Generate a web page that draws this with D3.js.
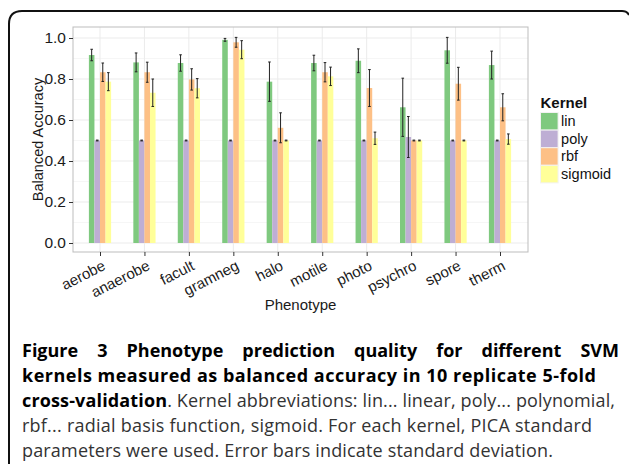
<!DOCTYPE html>
<html>
<head>
<meta charset="utf-8">
<script src="https://cdn.jsdelivr.net/npm/d3@7"></script>
<style>
  body { margin: 0; background: #fff; }
  svg { display: block; }
</style>
</head>
<body>
<svg id="chart"></svg>
<script>
const phenotypes = ['aerobe', 'anaerobe', 'facult', 'gramneg', 'halo', 'motile', 'photo', 'psychro', 'spore', 'therm'];
const kernels = ['lin', 'poly', 'rbf', 'sigmoid'];
const kernelColors = ['#7fc97f', '#beaed4', '#fdc086', '#ffff99'];

const linMean = [0.917, 0.881, 0.878, 0.991, 0.787, 0.878, 0.889, 0.662, 0.940, 0.868];
const linSd = [0.028, 0.046, 0.040, 0.007, 0.096, 0.038, 0.058, 0.142, 0.063, 0.068];
const polyMean = [0.5, 0.5, 0.5, 0.5, 0.5, 0.5, 0.5, 0.517, 0.5, 0.5];
const polySd = [0.002, 0.002, 0.002, 0.002, 0.002, 0.002, 0.002, 0.100, 0.002, 0.002];
const rbfMean = [0.833, 0.833, 0.798, 0.979, 0.562, 0.833, 0.756, 0.5, 0.777, 0.662];
const rbfSd = [0.045, 0.049, 0.052, 0.024, 0.073, 0.047, 0.090, 0.002, 0.080, 0.066];
const sigmoidMean = [0.787, 0.733, 0.755, 0.943, 0.5, 0.813, 0.511, 0.5, 0.5, 0.507];
const sigmoidSd = [0.044, 0.067, 0.047, 0.044, 0.002, 0.045, 0.030, 0.002, 0.002, 0.025];

const yTicks = [0, 0.2, 0.4, 0.6, 0.8, 1.0];
const yMinorTicks = [0.1, 0.3, 0.5, 0.7, 0.9];

const captionLines = [
  [{ t: 'Figure 3 Phenotype prediction quality for different SVM', b: true }],
  [{ t: 'kernels measured as balanced accuracy in 10 replicate 5-fold', b: true }],
  [{ t: 'cross-validation', b: true }, { t: '. Kernel abbreviations: lin... linear, poly... polynomial,', b: false }],
  [{ t: 'rbf... radial basis function, sigmoid. For each kernel, PICA standard', b: false }],
  [{ t: 'parameters were used. Error bars indicate standard deviation.', b: false }]
];
// widths the caption lines run to in the figure
const captionWidths = [597, 574, 593, 570, 531];

const means = [linMean, polyMean, rbfMean, sigmoidMean];
const sds = [linSd, polySd, rbfSd, sigmoidSd];
const rows = [];
kernels.forEach((k, ki) => {
  phenotypes.forEach((p, pi) => {
    rows.push({ kernel: k, phenotype: p, mean: means[ki][pi], sd: sds[ki][pi] });
  });
});

const W = 629, H = 464;
const panel = { left: 73, top: 27, right: 528, bottom: 252 };

const svg = d3.select('#chart').attr('width', W).attr('height', H);

// frame (top + left edge, rounded corner)
svg.append('path')
   .attr('d', 'M9,466 L9,24 Q9,11 22,11 L622,11 Q627,11 629,15')
   .attr('fill', 'none')
   .attr('stroke', '#111')
   .attr('stroke-width', 2);

const x = d3.scalePoint()
            .domain(phenotypes)
            .range([100, 500]);
const step = x.step();

const xk = d3.scaleBand()
             .domain(kernels)
             .range([-step * 0.25, step * 0.25]);

const y = d3.scaleLinear()
            .domain([0, 1])
            .range([243, 38]);

const color = d3.scaleOrdinal().domain(kernels).range(kernelColors);

// grid
const grid = svg.append('g');
grid.selectAll('.minor')
    .data(yMinorTicks)
    .enter().append('line')
    .attr('x1', panel.left).attr('x2', panel.right)
    .attr('y1', d => y(d)).attr('y2', d => y(d))
    .attr('stroke', '#f6f6f6').attr('stroke-width', 1);
grid.selectAll('.major')
    .data(yTicks)
    .enter().append('line')
    .attr('x1', panel.left).attr('x2', panel.right)
    .attr('y1', d => y(d)).attr('y2', d => y(d))
    .attr('stroke', '#ebebeb').attr('stroke-width', 1);
grid.selectAll('.vmajor')
    .data(phenotypes)
    .enter().append('line')
    .attr('x1', d => x(d)).attr('x2', d => x(d))
    .attr('y1', panel.top).attr('y2', panel.bottom)
    .attr('stroke', '#ebebeb').attr('stroke-width', 1);

// bars
svg.append('g')
   .selectAll('rect')
   .data(rows)
   .enter().append('rect')
   .attr('x', d => x(d.phenotype) + xk(d.kernel))
   .attr('width', xk.bandwidth())
   .attr('y', d => y(d.mean))
   .attr('height', d => y(0) - y(d.mean))
   .attr('fill', d => color(d.kernel));

// error bars
const eb = svg.append('g').attr('stroke', '#222').attr('stroke-width', 1);
rows.forEach(d => {
  const cx = x(d.phenotype) + xk(d.kernel) + xk.bandwidth() / 2;
  const y1 = y(d.mean + d.sd), y2 = y(d.mean - d.sd);
  eb.append('line').attr('x1', cx).attr('x2', cx).attr('y1', y1).attr('y2', y2);
  eb.append('line').attr('x1', cx - 1.3).attr('x2', cx + 1.3).attr('y1', y1).attr('y2', y1);
  eb.append('line').attr('x1', cx - 1.3).attr('x2', cx + 1.3).attr('y1', y2).attr('y2', y2);
});

// panel border
svg.append('rect')
   .attr('x', panel.left).attr('y', panel.top)
   .attr('width', panel.right - panel.left).attr('height', panel.bottom - panel.top)
   .attr('fill', 'none').attr('stroke', '#bdbdbd').attr('stroke-width', 1);

// Y axis
const yAxis = svg.append('g')
   .attr('transform', `translate(${panel.left},0)`)
   .call(d3.axisLeft(y).tickValues(yTicks).tickFormat(d3.format('.1f')).tickSize(4).tickPadding(3));
yAxis.select('.domain').remove();
yAxis.selectAll('line').attr('stroke', '#333');
yAxis.selectAll('text')
     .attr('fill', '#1a1a1a')
     .style('font-family', '"Liberation Sans", Arial, sans-serif')
     .style('font-size', '15.5px');

// X axis
const xAxis = svg.append('g')
   .attr('transform', `translate(0,${panel.bottom})`)
   .call(d3.axisBottom(x).tickSize(4).tickPadding(0));
xAxis.select('.domain').remove();
xAxis.selectAll('line').attr('stroke', '#333');
xAxis.selectAll('text')
     .attr('fill', '#1a1a1a')
     .style('font-family', '"Liberation Sans", Arial, sans-serif')
     .style('font-size', '15px')
     .attr('text-anchor', 'end')
     .attr('dy', null)
     .attr('y', 0)
     .attr('transform', 'translate(6,17) rotate(-27)');

// axis titles
svg.append('text')
   .attr('x', (panel.left + panel.right) / 2)
   .attr('y', 310)
   .attr('text-anchor', 'middle')
   .style('font-family', '"Liberation Sans", Arial, sans-serif')
   .style('font-size', '15px')
   .attr('fill', '#1a1a1a')
   .text('Phenotype');

svg.append('text')
   .attr('transform', `translate(43,${(panel.top + panel.bottom) / 2}) rotate(-90)`)
   .attr('text-anchor', 'middle')
   .style('font-family', '"Liberation Sans", Arial, sans-serif')
   .style('font-size', '14.5px')
   .attr('fill', '#1a1a1a')
   .text('Balanced Accuracy');

// legend
const legend = svg.append('g').attr('transform', 'translate(540.5,112.5)');
legend.append('text')
      .attr('x', 0).attr('y', -4.5)
      .style('font-family', '"Liberation Sans", Arial, sans-serif')
      .style('font-size', '15px')
      .style('font-weight', 'bold')
      .attr('fill', '#111')
      .text('Kernel');
const keySize = 17.6;
const item = legend.selectAll('.item')
      .data(kernels)
      .enter().append('g')
      .attr('transform', (d, i) => `translate(0,${i * keySize})`);
item.append('rect')
    .attr('width', keySize).attr('height', keySize)
    .attr('fill', d => color(d))
    .attr('stroke', '#f2f2f2').attr('stroke-width', 1);
item.append('text')
    .attr('x', keySize + 3).attr('y', keySize / 2 + 5)
    .style('font-family', '"Liberation Sans", Arial, sans-serif')
    .style('font-size', '14.5px')
    .attr('fill', '#111')
    .text(d => d);

// caption
const cap = svg.append('g').attr('transform', 'translate(22,0)');
captionLines.forEach((parts, i) => {
  const t = cap.append('text')
     .attr('x', 0)
     .attr('y', 357 + i * 25)
     .style('font-family', '"Open Sans", sans-serif')
     .style('font-size', '18px')
     .attr('fill', '#1a1a1a');
  parts.forEach(p => {
    t.append('tspan')
     .style('font-weight', p.b ? 'bold' : 'normal')
     .attr('fill', p.b ? '#000' : '#333')
     .text(p.t);
  });
  const natural = t.node().getComputedTextLength();
  if (i === 0) {
    // justified first line: spread the words
    const gaps = parts[0].t.split(' ').length - 1;
    t.style('word-spacing', ((captionWidths[i] - natural) / gaps) + 'px');
  } else {
    t.attr('textLength', captionWidths[i]).attr('lengthAdjust', 'spacing');
  }
});
</script>
</body>
</html>
